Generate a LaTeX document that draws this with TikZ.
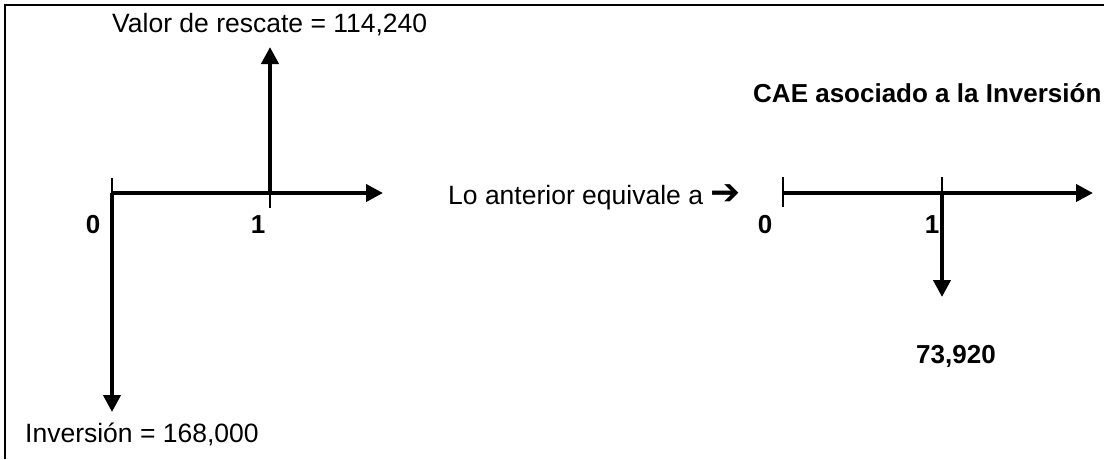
\documentclass[tikz,border=0pt]{standalone}
\usepackage{fontspec}
\setmainfont{Liberation Sans}
\newfontfamily\symfont{DejaVu Sans}
\usetikzlibrary{arrows.meta}
\begin{document}
\begin{tikzpicture}[x=1pt,y=-1pt,
  txt/.style={inner sep=0pt,font=\fontsize{26.5}{30}\selectfont},
  btxt/.style={inner sep=0pt,font=\fontsize{26}{30}\selectfont\bfseries},
  thickline/.style={line width=4pt},
  thinline/.style={line width=2pt},
  flow/.style={line width=4pt,-{Triangle[width=17pt,length=17pt]}},
  frame/.style={line width=2pt}]
\useasboundingbox (0,0) rectangle (1104,459);
\clip (0,0) rectangle (1104,459);
% frame (top and left only visible)
\coordinate (fTL) at (5,5);
\coordinate (fTR) at (1104,5);
\coordinate (fBL) at (5,459);
\draw[frame] (fTR) -- (fTL) -- (fBL);
% left diagram
\coordinate (L0) at (112,193);
\coordinate (L0top) at (112,178);
\coordinate (Lend) at (383,193);
\coordinate (L1) at (270,193);
\coordinate (L1bot) at (270,208);
\coordinate (Lup) at (270,47);
\coordinate (Ldown) at (112,412);
\draw[thinline] (L0top) -- (L0);
\draw[flow] (L0) -- (Lend);
\draw[thinline] (L1) -- (L1bot);
\draw[flow] (L1) -- (Lup);
\draw[flow] (L0) -- (Ldown);
\node[txt,anchor=base west] (vr) at (112,32.5) {Valor de rescate = 114,240};
\node[txt,anchor=base west] (inv) at (25,442) {Inversión = 168,000};
\node[btxt,anchor=base] (l0) at (93,233) {0};
\node[btxt,anchor=base] (l1) at (258,233) {1};
% middle text
\node[txt,anchor=base west] (eq) at (448,204) {Lo anterior equivale a {\symfont\bfseries\fontsize{36}{36}\selectfont ➔}};
% right diagram
\node[btxt,anchor=base west] (cae) at (753,102) {CAE asociado a la Inversión};
\coordinate (R0) at (783,193);
\coordinate (R0top) at (783,177);
\coordinate (R0bot) at (783,207);
\coordinate (Rend) at (1093,193);
\coordinate (R1) at (942,193);
\coordinate (R1top) at (942,177);
\coordinate (Rdown) at (942,297);
\draw[thinline] (R0top) -- (R0bot);
\draw[flow] (R0) -- (Rend);
\draw[thinline] (R1top) -- (R1);
\draw[flow] (R1) -- (Rdown);
\node[btxt,anchor=base] (r0) at (765,233) {0};
\node[btxt,anchor=base] (r1) at (932,233) {1};
\node[btxt,anchor=base west] (cae2) at (916,363) {73,920};
\end{tikzpicture}
\end{document}
